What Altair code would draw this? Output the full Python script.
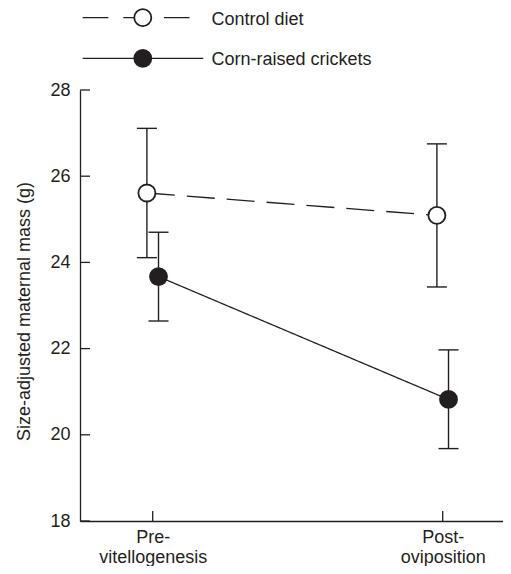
import json
import altair as alt
import pandas as pd

# ---------------- data ----------------
series_names = ["Control diet", "Corn-raised crickets"]
stage_index = [0, 1]
stage_labels = [["Pre-", "vitellogenesis"], ["Post-", "oviposition"]]
control_mean = [25.61, 25.09]
control_low = [24.11, 23.43]
control_high = [27.11, 26.75]
corn_mean = [23.67, 20.82]
corn_low = [22.64, 19.68]
corn_high = [24.70, 21.97]
y_ticks = [18, 20, 22, 24, 26, 28]

# ---------------- style / layout ----------------
INK = "#231f20"
FONT = "Liberation Sans"
W, H = 423, 431
DODGE = 0.02
LEGEND_Y = [-72.3, -31.7]
LEGEND_DASH = [[25.6, 15], [1, 0]]
LINE_DASH = [[28, 12], [1, 0]]
FILLS = ["white", INK]

rows = []
for s, means, lows, highs in [
    (series_names[0], control_mean, control_low, control_high),
    (series_names[1], corn_mean, corn_low, corn_high),
]:
    for i, m, lo, hi in zip(stage_index, means, lows, highs):
        rows.append(dict(series=s, stage=i, mean=m, low=lo, high=hi))
df = pd.DataFrame(rows)

xscale = alt.Scale(domain=[-0.2507, 1.2079], nice=False, zero=False)
yscale = alt.Scale(domain=[18, 28], nice=False, zero=False)

label_expr = " : ".join(
    f"datum.value == {i} ? {json.dumps(lbl)}" for i, lbl in zip(stage_index[:-1], stage_labels[:-1])
) + " : " + json.dumps(stage_labels[-1])

xaxis = alt.Axis(
    values=stage_index, labelExpr=label_expr, title=None, grid=False,
    ticks=False, tickSize=0, labelPadding=7, labelLineHeight=20.5,
    labelFontSize=18, labelFont=FONT, labelColor=INK, labelAngle=0,
    domainColor=INK, domainWidth=1.3,
)
yaxis = alt.Axis(
    values=y_ticks, format="d", title="Size-adjusted maternal mass (g)",
    titleFontSize=18, titleFont=FONT, titleFontWeight="normal", titleColor=INK,
    titleAngle=270, titleX=-51, titleY=221, titleBaseline="alphabetic",
    titleAlign="center", grid=False, ticks=False, tickSize=0, labelPadding=10,
    labelFontSize=18, labelFont=FONT, labelColor=INK,
    domainColor=INK, domainWidth=1.3,
)

X = lambda f: alt.X(f, type="quantitative", scale=xscale, axis=xaxis)
Y = lambda f: alt.Y(f, type="quantitative", scale=yscale, axis=yaxis)

base = alt.Chart(df).transform_calculate(
    xpos=f"datum.stage + (datum.series == '{series_names[0]}' ? -{DODGE} : {DODGE})"
)

lines = base.mark_line(color=INK, strokeWidth=1.3).encode(
    x=X("xpos"), y=Y("mean"),
    strokeDash=alt.StrokeDash("series:N", scale=alt.Scale(domain=series_names, range=LINE_DASH), legend=None),
    detail="series:N",
)
err = base.mark_rule(color=INK, strokeWidth=1.4).encode(x=X("xpos"), y=Y("low"), y2="high:Q")
cap_lo = base.mark_tick(orient="horizontal", color=INK, thickness=1.4, size=20, opacity=1).encode(x=X("xpos"), y=Y("low"))
cap_hi = base.mark_tick(orient="horizontal", color=INK, thickness=1.4, size=20, opacity=1).encode(x=X("xpos"), y=Y("high"))
points = base.mark_point(shape="circle", filled=True, size=290, strokeWidth=1.8, stroke=INK,
                         opacity=1, fillOpacity=1, strokeOpacity=1).encode(
    x=X("xpos"), y=Y("mean"),
    fill=alt.Fill("series:N", scale=alt.Scale(domain=series_names, range=FILLS), legend=None),
)

ytick_marks = alt.Chart(pd.DataFrame({"v": y_ticks})).mark_rule(color=INK, strokeWidth=1.3).encode(
    y=Y("v"), x=alt.value(0), x2=alt.value(10)
)
xtick_marks = alt.Chart(pd.DataFrame({"s": stage_index})).mark_rule(color=INK, strokeWidth=1.3).encode(
    x=X("s"), y=alt.value(H), y2=alt.value(H - 10)
)

legend_layers = []
for k, name in enumerate(series_names):
    ly = LEGEND_Y[k]
    ld = pd.DataFrame({"series": [name]})
    legend_layers.append(alt.Chart(ld).mark_rule(color=INK, strokeWidth=1.3, strokeDash=LEGEND_DASH[k]).encode(
        x=alt.value(2.7), x2=alt.value(123.3), y=alt.value(ly)))
    legend_layers.append(alt.Chart(ld).mark_point(shape="circle", filled=True, size=290, strokeWidth=1.8,
                                                  stroke=INK, fill=FILLS[k], opacity=1).encode(
        x=alt.value(62.8), y=alt.value(ly)))
    legend_layers.append(alt.Chart(ld).mark_text(align="left", baseline="alphabetic", fontSize=18,
                                                 font=FONT, color=INK).encode(
        x=alt.value(131.5), y=alt.value(ly + 7), text="series:N"))

chart = alt.layer(
    lines, err, cap_lo, cap_hi, points, ytick_marks, xtick_marks, *legend_layers
).properties(
    width=W, height=H,
    autosize=alt.AutoSizeParams(type="none"),
    padding={"left": 72, "top": 82, "right": 0, "bottom": 45},
).configure_view(stroke=None)

chart.save("out.html", embed_options={"renderer": "svg", "actions": False})
